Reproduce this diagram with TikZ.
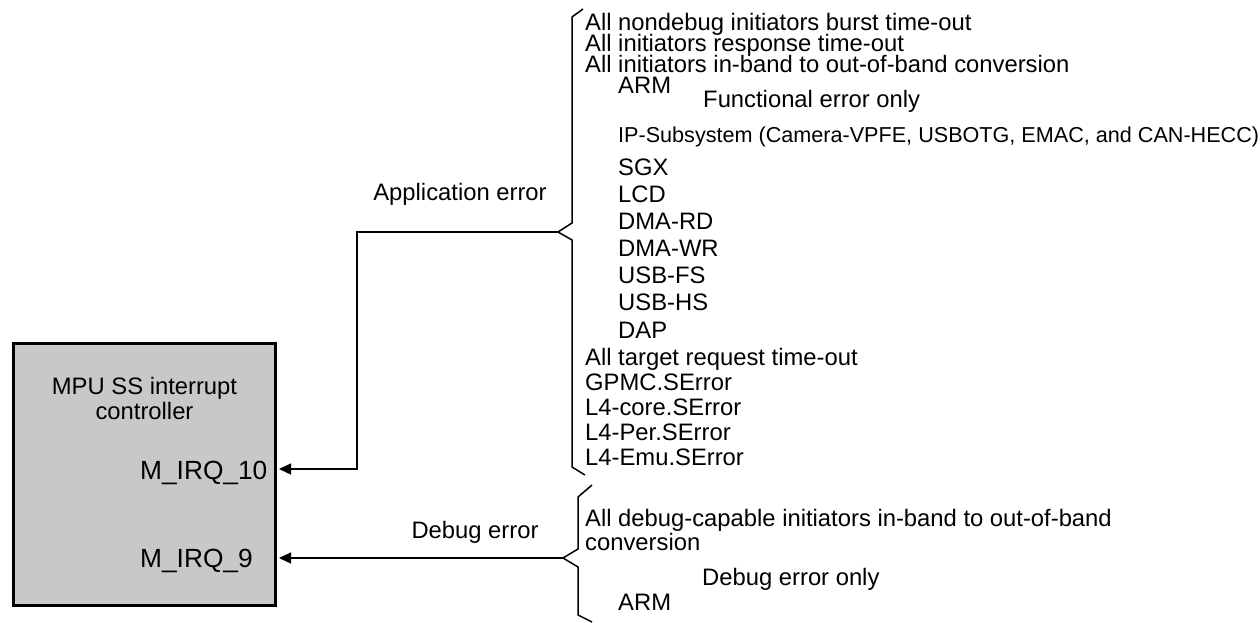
\documentclass[tikz,border=0pt]{standalone}
\usepackage{fontspec}
\setmainfont{Liberation Sans}
\usetikzlibrary{arrows.meta}
\definecolor{boxgray}{RGB}{200,200,200}
\tikzset{
  lbl/.style={font=\fontsize{23.8}{24}\selectfont, inner sep=0pt, anchor=west, text height=17pt, text depth=0pt},
  small/.style={lbl, font=\fontsize{21.6}{22}\selectfont, text height=15.5pt},
  irq/.style={lbl, font=\fontsize{26.3}{27}\selectfont, text height=18.8pt},
  ctr/.style={lbl, anchor=center},
  mpubox/.style={draw=black, line width=3pt, fill=boxgray, minimum width=262pt, minimum height=262pt, inner sep=0pt},
  conn/.style={line width=1.3pt, -{Triangle[length=12pt,width=11pt]}},
  brace/.style={line width=1.5pt, line join=miter}
}
\begin{document}
\begin{tikzpicture}[x=1pt,y=-1pt]
\useasboundingbox (0,0) rectangle (1260,623);
% box
\node[mpubox] (mpu) at (144.5,474.5) {};
\node[font=\fontsize{23.8}{25}\selectfont, align=center, inner sep=0pt] (title) at (144.5,398) {MPU SS interrupt\\controller};
\node[irq] (irqten) at (140,470) {M\_IRQ\_10};
\node[irq] (irqnine) at (140,558) {M\_IRQ\_9};
% top brace
\coordinate (ta) at (583,9);
\coordinate (tb) at (572,17);
\coordinate (tc) at (572,223);
\coordinate (apt) at (558,232);
\coordinate (td) at (572,240);
\coordinate (te) at (572,467);
\coordinate (tf) at (585,475);
\draw[brace] (ta) -- (tb) -- (tc) -- (apt) -- (td) -- (te) -- (tf);
% debug brace
\coordinate (da) at (592,485);
\coordinate (db) at (578,497);
\coordinate (dc) at (578,549);
\coordinate (dpt) at (563,558);
\coordinate (dd) at (578,567);
\coordinate (de) at (578,615);
\coordinate (df) at (592,622);
\draw[brace] (da) -- (db) -- (dc) -- (dpt) -- (dd) -- (de) -- (df);
% connectors
\coordinate (bend) at (357,232);
\coordinate (in10) at (279,469);
\coordinate (in9) at (279,558);
\draw[conn] (apt) -- (bend) |- (in10);
\draw[conn] (dpt) -- (in9);
\node[ctr] (apperr) at (460,192) {Application error};
\node[ctr] (dbgerr) at (475,530) {Debug error};
% application list
\node[lbl] (l1) at (585,22) {All nondebug initiators burst time-out};
\node[lbl] (l2) at (585,43) {All initiators response time-out};
\node[lbl] (l3) at (585,64) {All initiators in-band to out-of-band conversion};
\node[lbl] (arm1) at (618,85) {ARM};
\node[lbl] (func) at (703,99) {Functional error only};
\node[small] (ip) at (618,135) {IP-Subsystem (Camera-VPFE, USBOTG, EMAC, and CAN-HECC)};
\node[lbl] (sgx) at (618,167) {SGX};
\node[lbl] (lcd) at (618,194) {LCD};
\node[lbl] (dmard) at (618,221) {DMA-RD};
\node[lbl] (dmawr) at (618,248) {DMA-WR};
\node[lbl] (usbfs) at (618,275) {USB-FS};
\node[lbl] (usbhs) at (618,302) {USB-HS};
\node[lbl] (dap) at (618,330) {DAP};
\node[lbl] (tgt) at (585,357) {All target request time-out};
\node[lbl] (gpmc) at (585,382) {GPMC.SError};
\node[lbl] (l4c) at (585,407) {L4-core.SError};
\node[lbl] (l4p) at (585,432) {L4-Per.SError};
\node[lbl] (l4e) at (585,457) {L4-Emu.SError};
% debug list
\node[lbl] (dl1) at (585,518) {All debug-capable initiators in-band to out-of-band};
\node[lbl] (dl2) at (585,542) {conversion};
\node[lbl] (donly) at (702,577) {Debug error only};
\node[lbl] (arm2) at (618,602) {ARM};
\end{tikzpicture}
\end{document}
